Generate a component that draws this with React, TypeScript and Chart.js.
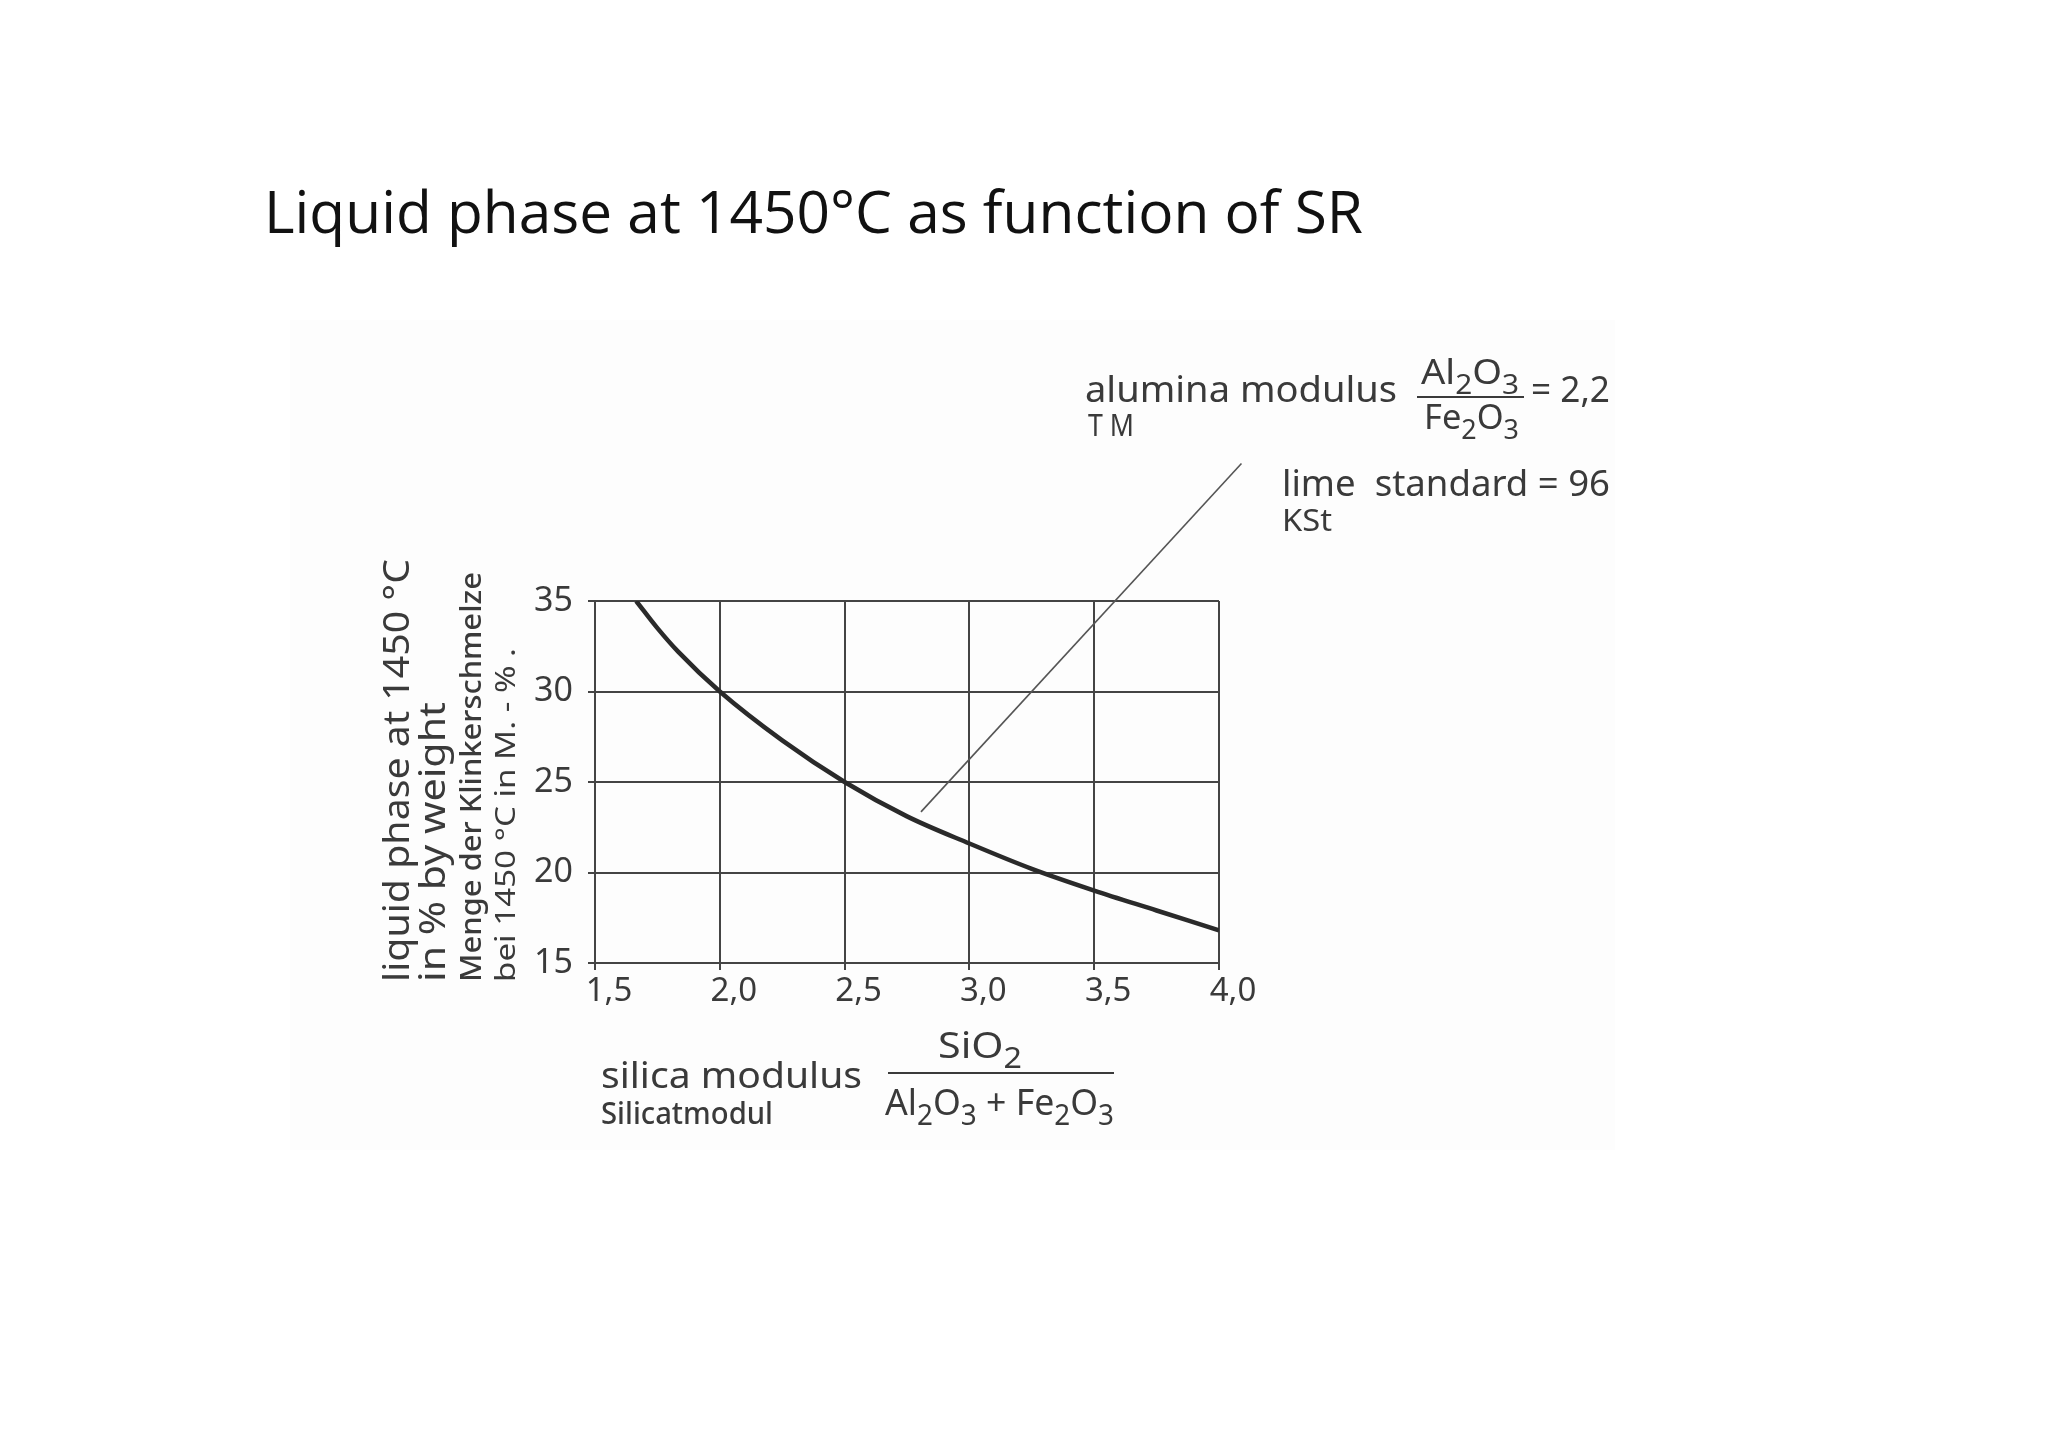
import { useEffect, useRef } from "react";
import { Chart, registerables } from "chart.js";

Chart.register(...registerables);

// silica modulus (x) and liquid phase in % (y)
const silicaModulus = [1.665, 1.75, 1.833, 2.0, 2.25, 2.5, 2.75, 3.0, 3.25, 3.5, 3.75, 4.0];
const liquidPhase = [35.0, 33.5, 32.2, 30.0, 27.3, 25.0, 23.1, 21.6, 20.2, 19.0, 17.9, 16.8];

// leader line from the curve up to the "lime standard" note
const leaderX = [2.806, 4.09];
const leaderY = [23.35, 42.6];

const xTicks = [1.5, 2.0, 2.5, 3.0, 3.5, 4.0];
const yTicks = [15, 20, 25, 30, 35];

const INK = "#3a3a3a";
const FONT = "'Noto Sans', 'DejaVu Sans', sans-serif";

type Part = { t: string; sub?: boolean };

// draws a text squeezed/stretched to a given width
function fitText(ctx: CanvasRenderingContext2D, text: string, x: number, y: number, width: number, size: number, weight = "normal", family = FONT) {
  ctx.save();
  ctx.font = `${weight} ${size}px ${family}`;
  const w = ctx.measureText(text).width;
  ctx.translate(x, y);
  ctx.scale(width / w, 1);
  ctx.textAlign = "left";
  ctx.textBaseline = "alphabetic";
  ctx.fillText(text, 0, 0);
  ctx.restore();
}

// chemical formula with subscripts
function formula(ctx: CanvasRenderingContext2D, parts: Part[], x: number, y: number, width: number, size: number) {
  ctx.save();
  const subSize = size * 0.78;
  let total = 0;
  const widths = parts.map((p) => {
    ctx.font = `normal ${p.sub ? subSize : size}px ${FONT}`;
    const w = ctx.measureText(p.t).width;
    total += w;
    return w;
  });
  ctx.translate(x, y);
  ctx.scale(width / total, 1);
  ctx.textBaseline = "alphabetic";
  let cx = 0;
  parts.forEach((p, i) => {
    ctx.font = `normal ${p.sub ? subSize : size}px ${FONT}`;
    ctx.fillText(p.t, cx, p.sub ? size * 0.28 : 0);
    cx += widths[i];
  });
  ctx.restore();
}

function hline(ctx: CanvasRenderingContext2D, x1: number, x2: number, y: number) {
  ctx.save();
  ctx.strokeStyle = INK;
  ctx.lineWidth = 2;
  ctx.beginPath();
  ctx.moveTo(x1, y);
  ctx.lineTo(x2, y);
  ctx.stroke();
  ctx.restore();
}

function vText(ctx: CanvasRenderingContext2D, text: string, baseX: number, startY: number, endY: number, size: number, weight = "normal") {
  ctx.save();
  ctx.translate(baseX, startY);
  ctx.rotate(-Math.PI / 2);
  fitText(ctx, text, 0, 0, startY - endY, size, weight);
  ctx.restore();
}

const decorations = {
  id: "decorations",
  beforeDraw(chart: Chart) {
    const ctx = chart.ctx;
    ctx.save();
    ctx.fillStyle = "#fdfdfd";
    ctx.fillRect(290, 320, 1325, 830);
    ctx.fillStyle = "#111";
    fitText(ctx, "Liquid phase at 1450°C as function of SR", 264, 233, 1099, 58, "normal", "'Open Sans', 'Noto Sans', sans-serif");
    ctx.restore();
  },
  afterDraw(chart: Chart) {
    const ctx = chart.ctx;
    ctx.save();
    ctx.fillStyle = INK;

    // top right note
    fitText(ctx, "alumina modulus", 1085, 402, 312, 36);
    fitText(ctx, "T M", 1088, 436, 46, 31);
    formula(ctx, [{ t: "Al" }, { t: "2", sub: true }, { t: "O" }, { t: "3", sub: true }], 1421, 384, 98, 35);
    hline(ctx, 1417, 1524, 397);
    formula(ctx, [{ t: "Fe" }, { t: "2", sub: true }, { t: "O" }, { t: "3", sub: true }], 1424, 429, 95, 35);
    fitText(ctx, "= 2,2", 1531, 402, 79, 36);
    fitText(ctx, "lime  standard = 96", 1282, 496, 328, 37);
    fitText(ctx, "KSt", 1282, 531, 50, 31);

    // x axis title
    fitText(ctx, "silica modulus", 601, 1088, 261, 37);
    fitText(ctx, "Silicatmodul", 601, 1124, 172, 31, "500");
    formula(ctx, [{ t: "SiO" }, { t: "2", sub: true }], 938, 1058, 84, 37);
    hline(ctx, 888, 1114, 1073);
    formula(
      ctx,
      [{ t: "Al" }, { t: "2", sub: true }, { t: "O" }, { t: "3", sub: true }, { t: " + " }, { t: "Fe" }, { t: "2", sub: true }, { t: "O" }, { t: "3", sub: true }],
      885,
      1115,
      229,
      37
    );

    // y axis titles
    vText(ctx, "liquid phase at 1450 °C", 409, 982, 559, 37);
    vText(ctx, "in % by weight", 445, 982, 702, 36);
    vText(ctx, "Menge der Klinkerschmelze", 481, 982, 572, 28, "500");
    vText(ctx, "bei 1450 °C in M. - % .", 515, 982, 648, 28);
    ctx.restore();
  },
};

export default function App() {
  const chartRef = useRef<HTMLCanvasElement>(null);
  const chartInstance = useRef<Chart | null>(null);

  useEffect(() => {
    if (!chartRef.current) return;
    if (chartInstance.current) chartInstance.current.destroy();

    chartInstance.current = new Chart(chartRef.current, {
      type: "line",
      data: {
        datasets: [
          {
            data: silicaModulus.map((x, i) => ({ x, y: liquidPhase[i] })),
            borderColor: "#2a2a2a",
            borderWidth: 4.5,
            pointRadius: 0,
            cubicInterpolationMode: "monotone",
          },
          {
            data: leaderX.map((x, i) => ({ x, y: leaderY[i] })),
            borderColor: "#555",
            borderWidth: 1.6,
            pointRadius: 0,
            clip: false as any,
          },
        ],
      },
      options: {
        animation: false,
        responsive: true,
        maintainAspectRatio: false,
        devicePixelRatio: 1,
        layout: { padding: { left: 475, top: 601, right: 829, bottom: 425 } },
        plugins: { legend: { display: false }, tooltip: { enabled: false }, title: { display: false } },
        scales: {
          x: {
            type: "linear",
            min: 1.5,
            max: 4,
            afterFit: (scale: any) => {
              scale.height = 60;
            },
            afterBuildTicks: (scale: any) => {
              scale.ticks = xTicks.map((v) => ({ value: v }));
            },
            ticks: {
              color: INK,
              font: { family: FONT, size: 33 },
              padding: 2,
              labelOffset: 14,
              maxRotation: 0,
              callback: (v: any) => Number(v).toFixed(1).replace(".", ","),
            },
            grid: { color: "#444", lineWidth: 2, tickLength: 7, tickColor: "#444" },
            border: { color: "#444", width: 2 },
          },
          y: {
            type: "linear",
            min: 15,
            max: 35,
            afterFit: (scale: any) => {
              scale.width = 120;
            },
            afterBuildTicks: (scale: any) => {
              scale.ticks = yTicks.map((v) => ({ value: v }));
            },
            ticks: {
              color: INK,
              font: { family: FONT, size: 34 },
              padding: 15,
            },
            grid: { color: "#444", lineWidth: 2, tickLength: 7, tickColor: "#444" },
            border: { color: "#444", width: 2 },
          },
        },
      },
      plugins: [decorations],
    });

    return () => {
      if (chartInstance.current) {
        chartInstance.current.destroy();
        chartInstance.current = null;
      }
    };
  }, []);

  return (
    <div style={{ position: "fixed", left: 0, top: 0, width: 2048, height: 1448, background: "#fff" }}>
      <canvas ref={chartRef}></canvas>
    </div>
  );
}
